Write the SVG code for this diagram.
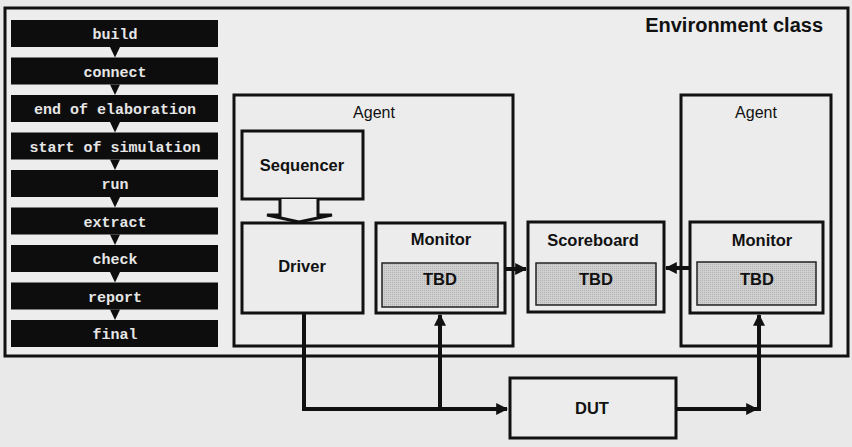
<svg xmlns="http://www.w3.org/2000/svg" width="852" height="447" viewBox="0 0 852 447">
<defs>
<marker id="ah" viewBox="0 0 10 10" refX="9" refY="5" markerWidth="3" markerHeight="3" orient="auto" markerUnits="strokeWidth"><path d="M0,0 L10,5 L0,10 z" fill="#111"/></marker>
<pattern id="dots" width="2" height="2" patternUnits="userSpaceOnUse"><rect width="2" height="2" fill="#cfcfcf"/><rect width="1" height="1" fill="#b4b4b4"/></pattern>
</defs>
<style>
.box{fill:#ececec;stroke:#111;stroke-width:3}
.tbd{fill:url(#dots);stroke:#222;stroke-width:1.5}
.phase{fill:#0d0d0d}
.ptxt{font-family:"Liberation Mono",monospace;font-weight:bold;font-size:15px;fill:#e6e6e6;text-anchor:middle}
.b{font-family:"Liberation Sans",Arial,sans-serif;font-weight:bold;font-size:16.5px;fill:#111;text-anchor:middle}
.r{font-family:"Liberation Sans",Arial,sans-serif;font-size:16px;fill:#111;text-anchor:middle}
.con{fill:none;stroke:#111;stroke-width:4}
.tri{fill:#0d0d0d}
</style>
<rect width="852" height="447" fill="#e9e9e9"/>
<g id="environment">
<rect x="5" y="8" width="843" height="348" fill="#ededed" stroke="#111" stroke-width="3"/>
<text x="823" y="32" font-family="Liberation Sans,Arial,sans-serif" font-weight="bold" font-size="20" fill="#111" text-anchor="end">Environment class</text>
</g>
<g id="phases">
<g id="p-build"><rect class="phase" x="11" y="20" width="207" height="27"/><text class="ptxt" x="115" y="39">build</text></g>
<g id="p-connect"><rect class="phase" x="11" y="57.5" width="207" height="27"/><text class="ptxt" x="115" y="76.5">connect</text></g>
<g id="p-eoe"><rect class="phase" x="11" y="95" width="207" height="27"/><text class="ptxt" x="115" y="114">end of elaboration</text></g>
<g id="p-sos"><rect class="phase" x="11" y="132.5" width="207" height="27"/><text class="ptxt" x="115" y="151.5">start of simulation</text></g>
<g id="p-run"><rect class="phase" x="11" y="170" width="207" height="27"/><text class="ptxt" x="115" y="189">run</text></g>
<g id="p-extract"><rect class="phase" x="11" y="207.5" width="207" height="27"/><text class="ptxt" x="115" y="226.5">extract</text></g>
<g id="p-check"><rect class="phase" x="11" y="245" width="207" height="27"/><text class="ptxt" x="115" y="264">check</text></g>
<g id="p-report"><rect class="phase" x="11" y="282.5" width="207" height="27"/><text class="ptxt" x="115" y="301.5">report</text></g>
<g id="p-final"><rect class="phase" x="11" y="320" width="207" height="27"/><text class="ptxt" x="115" y="339">final</text></g>
<g id="p-arrows">
<path class="tri" d="M110,47 L120,47 L115,57.5 z"/>
<path class="tri" d="M110,84.5 L120,84.5 L115,95 z"/>
<path class="tri" d="M110,122 L120,122 L115,132.5 z"/>
<path class="tri" d="M110,159.5 L120,159.5 L115,170 z"/>
<path class="tri" d="M110,197 L120,197 L115,207.5 z"/>
<path class="tri" d="M110,234.5 L120,234.5 L115,245 z"/>
<path class="tri" d="M110,272 L120,272 L115,282.5 z"/>
<path class="tri" d="M110,309.5 L120,309.5 L115,320 z"/>
</g>
</g>
<g id="agent1">
<rect class="box" x="234" y="95" width="279" height="251"/>
<text class="r" x="374" y="118">Agent</text>
</g>
<g id="agent2">
<rect class="box" x="681" y="95" width="150" height="251"/>
<text class="r" x="756" y="118">Agent</text>
</g>
<g id="sequencer">
<rect class="box" x="242" y="131" width="121" height="68"/>
<text class="b" x="302" y="171">Sequencer</text>
</g>
<g id="driver">
<rect class="box" x="242" y="223" width="121" height="90"/>
<text class="b" x="302" y="272">Driver</text>
</g>
<g id="monitor1">
<rect class="box" x="376" y="223" width="129" height="90"/>
<text class="b" x="441" y="245">Monitor</text>
<rect class="tbd" x="382" y="263" width="116" height="44"/>
<text class="b" x="440" y="285">TBD</text>
</g>
<g id="scoreboard">
<rect class="box" x="528" y="222" width="136" height="90"/>
<text class="b" x="593" y="246">Scoreboard</text>
<rect class="tbd" x="536" y="263" width="120" height="42"/>
<text class="b" x="596" y="285">TBD</text>
</g>
<g id="monitor2">
<rect class="box" x="690" y="222" width="133" height="91"/>
<text class="b" x="762" y="246">Monitor</text>
<rect class="tbd" x="697" y="262" width="119" height="43"/>
<text class="b" x="757" y="285">TBD</text>
</g>
<g id="dut">
<rect class="box" x="510" y="378" width="166" height="60" stroke-width="4"/>
<text class="b" x="592" y="414">DUT</text>
</g>
<g id="connectors">
<path d="M280,199 L280,215 L267,215 L299,222 L332,215 L318,215 L318,199" fill="#ececec" stroke="#111" stroke-width="3" stroke-linejoin="miter"/>
<path class="con" d="M304,313 L304,409 L507,409" marker-end="url(#ah)"/>
<path class="con" d="M440,409 L440,315" marker-end="url(#ah)"/>
<path class="con" d="M676,409 L757,409" marker-end="url(#ah)" stroke-width="3.5"/>
<path class="con" d="M759,411 L759,315" marker-end="url(#ah)"/>
<path class="con" d="M505,269 L526,269" stroke-width="2.5" marker-end="url(#ah)"/>
<path class="con" d="M690,268 L666,268" stroke-width="2.5" marker-end="url(#ah)"/>
</g>
</svg>
